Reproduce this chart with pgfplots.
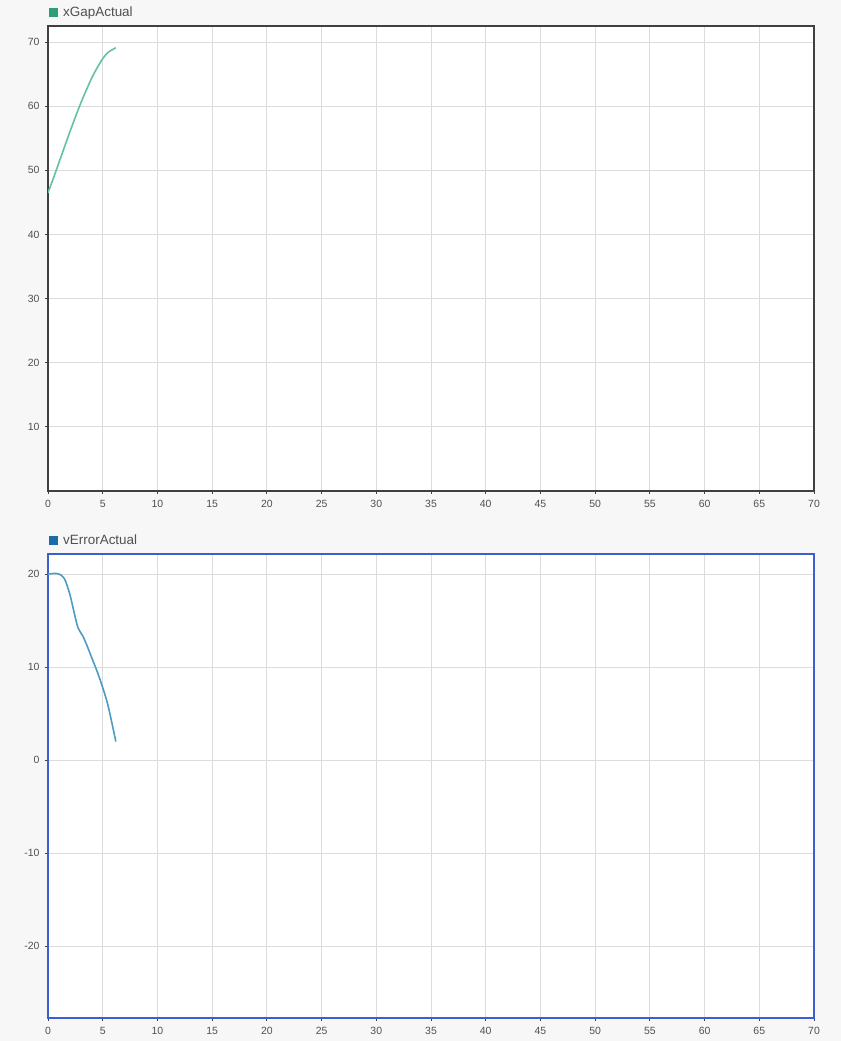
\documentclass[border=0pt]{standalone}
\usepackage{pgfplots}
\pgfplotsset{compat=1.18}
\usepackage{fontspec}
\setmainfont{Liberation Sans}
\definecolor{bgc}{HTML}{F7F7F7}
\definecolor{gridc}{HTML}{DCDCDC}
\definecolor{framec}{HTML}{404040}
\definecolor{selc}{HTML}{3B5FCF}
\definecolor{gapline}{HTML}{62C2A2}
\definecolor{gapleg}{HTML}{2E9E78}
\definecolor{errline}{HTML}{4E9CC4}
\definecolor{errleg}{HTML}{1B6DA8}
\definecolor{txtc}{HTML}{505050}
\pgfplotsset{
  common/.style={
    scale only axis, width=766bp,
    xmin=0, xmax=70, xtick={0,5,...,70},
    xtick pos=bottom, ytick pos=left,
    grid=major, major grid style={gridc, line width=0.8bp},
    tick align=outside, major tick length=3bp,
    tick style={framec, line width=0.8bp},
    axis background/.style={fill=white},
    /pgf/number format/assume math mode=true,
    tick label style={font=\fontsize{10.5}{12}\selectfont, text=txtc},
    xticklabel style={anchor=north, yshift=-2bp, text height=7.5bp, text depth=0pt},
    yticklabel style={xshift=-2bp},
    legend style={at={(0,1)}, anchor=south west, draw=none, fill=none,
      font=\fontsize{13.5}{15}\selectfont, text=txtc, xshift=1bp, yshift=6bp,
      legend cell align=left, inner sep=0pt},
  }
}
\begin{document}
\begin{tikzpicture}
\useasboundingbox (0bp,0bp) rectangle (841bp,1041bp);
\fill[bgc] (0bp,0bp) rectangle (841bp,1041bp);
\begin{axis}[common, at={(48bp,550bp)}, anchor=south west, height=465bp,
  ymin=0, ymax=72.5, ytick={10,20,...,70},
  axis line style={framec, line width=1.2bp},
  legend image code/.code={\fill[gapleg, draw=none] (0bp,-4.5bp) rectangle (9bp,4.5bp); \path[draw=none, fill=none] (0bp,0bp) rectangle (12bp,0.1bp);}]
\addplot[gapline, line width=1.6bp, smooth] coordinates {
(0,46.5) (0.5,48.8) (1,51.2) (1.5,53.6) (2,56.0) (2.5,58.3) (3,60.5)
(3.5,62.5) (4,64.4) (4.5,66.0) (5,67.4) (5.5,68.4) (6.2,69.1)};
\addlegendentry{xGapActual}
\end{axis}
\begin{axis}[common, at={(48bp,23bp)}, anchor=south west, height=464bp,
  ymin=-27.7, ymax=22.15, ytick={-20,-10,0,10,20},
  axis line style={selc, line width=2bp},
  legend image code/.code={\fill[errleg, draw=none] (0bp,-4.5bp) rectangle (9bp,4.5bp); \path[draw=none, fill=none] (0bp,0bp) rectangle (12bp,0.1bp);}]
\addplot[errline, line width=1.6bp, smooth] coordinates {
(0,20.0) (0.5,20.05) (1,20.0) (1.5,19.5) (2,17.8) (2.4,15.8) (2.75,14.2)
(3.2,13.3) (3.6,12.2) (4,11.0) (4.5,9.5) (5,7.8) (5.5,5.8) (6.2,2.0)};
\addlegendentry{vErrorActual}
\end{axis}
\end{tikzpicture}
\end{document}
